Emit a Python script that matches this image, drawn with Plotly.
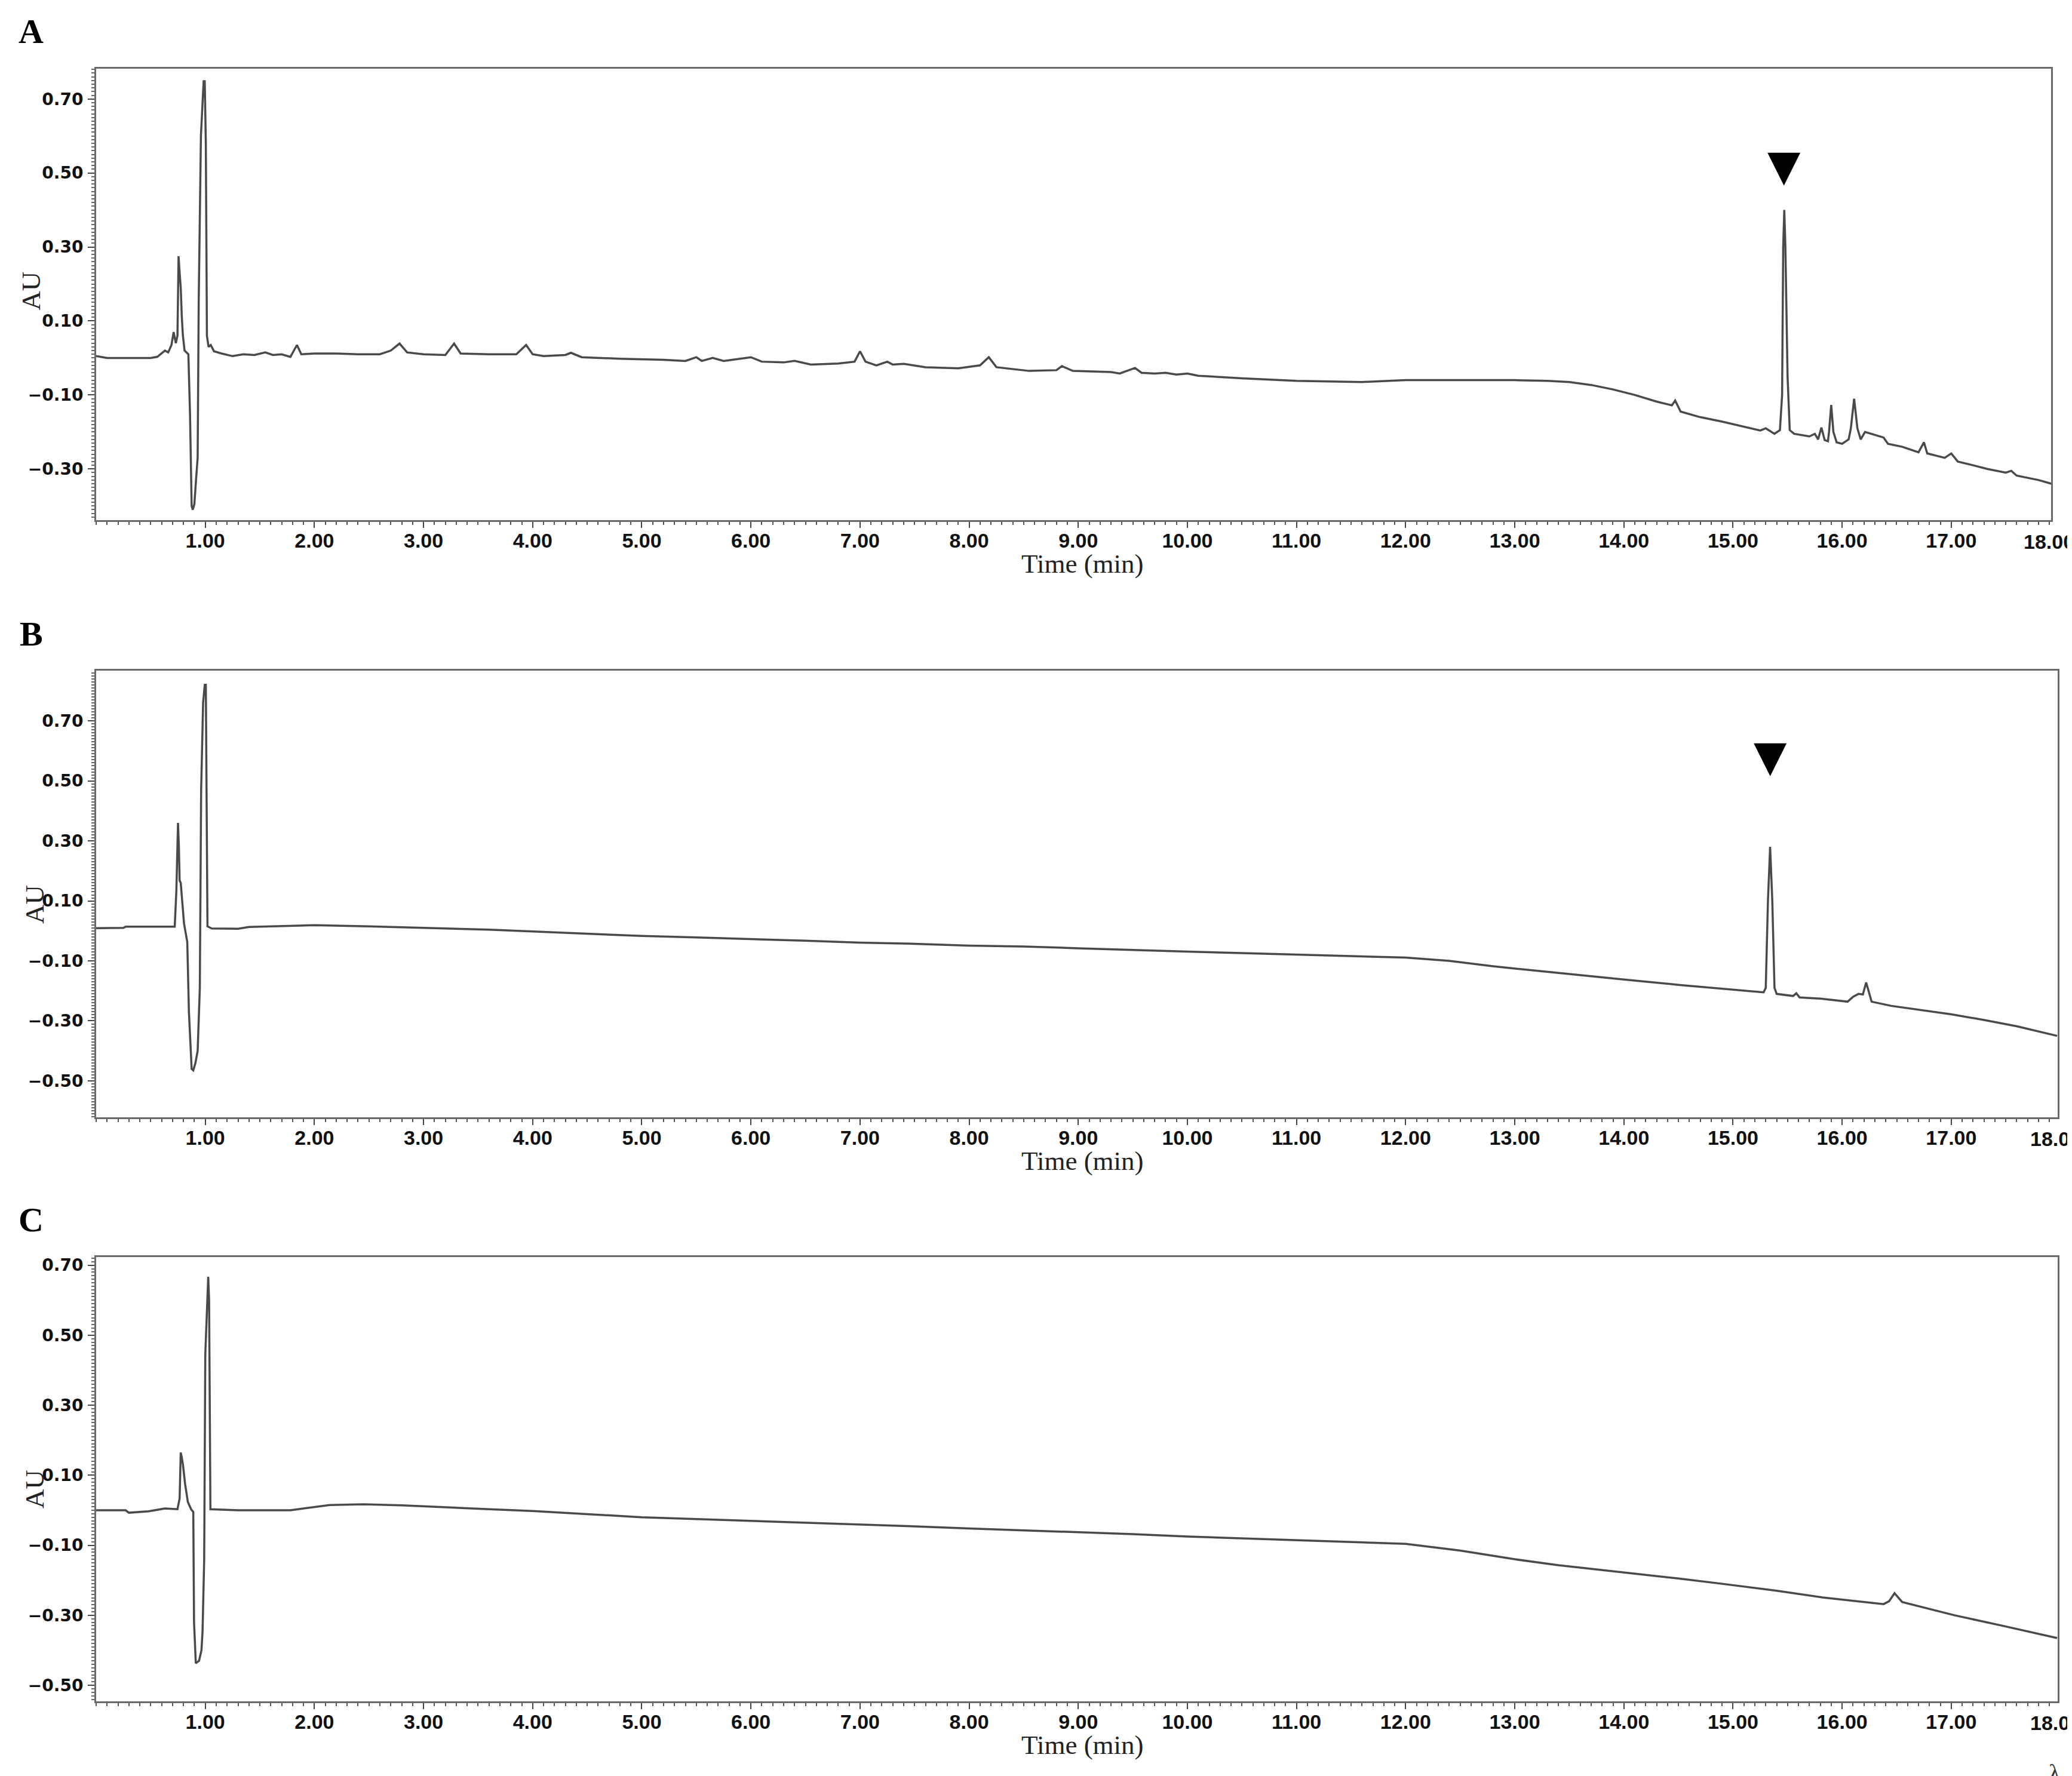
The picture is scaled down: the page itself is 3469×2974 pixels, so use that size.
import plotly.graph_objects as go

W, H = 3469, 2974

# ---------------- data ----------------
time_a = [0.00, 0.10, 0.30, 0.50, 0.56, 0.60, 0.63, 0.66, 0.69, 0.71, 0.73, 0.745, 0.755, 0.765,
          0.775, 0.785, 0.795, 0.81, 0.845, 0.86, 0.875, 0.885, 0.90, 0.915, 0.93, 0.94, 0.96,
          0.975, 0.985, 0.995, 1.005, 1.015, 1.03, 1.05, 1.08, 1.15, 1.25, 1.35, 1.45, 1.55,
          1.62, 1.70, 1.78, 1.84, 1.88, 2.00, 2.20, 2.40, 2.60, 2.70, 2.78, 2.85, 3.00, 3.20,
          3.28, 3.34, 3.60, 3.85, 3.94, 4.00, 4.10, 4.30, 4.35, 4.45, 4.80, 5.20, 5.40, 5.50,
          5.55, 5.65, 5.75, 5.90, 6.00, 6.10, 6.30, 6.40, 6.55, 6.80, 6.95, 7.00, 7.05, 7.15,
          7.25, 7.30, 7.40, 7.60, 7.90, 8.10, 8.18, 8.25, 8.40, 8.55, 8.80, 8.85, 8.95, 9.30,
          9.38, 9.45, 9.52, 9.58, 9.70, 9.80, 9.90, 10.0, 10.1, 10.5, 11.0, 11.6, 12.0, 12.5,
          13.0, 13.3, 13.5, 13.7, 13.9, 14.1, 14.3, 14.44, 14.47, 14.52, 14.7, 14.9, 15.1,
          15.25, 15.30, 15.38, 15.43, 15.45, 15.46, 15.47, 15.48, 15.50, 15.52, 15.56, 15.70,
          15.75, 15.78, 15.81, 15.84, 15.87, 15.88, 15.90, 15.92, 15.95, 16.00, 16.06, 16.08,
          16.11, 16.14, 16.17, 16.21, 16.30, 16.38, 16.42, 16.55, 16.70, 16.75, 16.78, 16.94,
          17.00, 17.06, 17.20, 17.33, 17.50, 17.55, 17.60, 17.80, 17.92]
au_a = [0.005, 0.000, 0.000, 0.000, 0.003, 0.012, 0.020, 0.015, 0.035, 0.070, 0.040, 0.060, 0.275,
        0.230, 0.190, 0.110, 0.060, 0.020, 0.010, -0.150, -0.400, -0.410, -0.395, -0.330, -0.270,
        0.160, 0.600, 0.690, 0.748, 0.748, 0.580, 0.060, 0.030, 0.035, 0.018, 0.012, 0.005, 0.010,
        0.008, 0.015, 0.008, 0.010, 0.003, 0.035, 0.010, 0.012, 0.012, 0.010, 0.010, 0.020, 0.039,
        0.015, 0.010, 0.008, 0.039, 0.012, 0.010, 0.010, 0.035, 0.010, 0.005, 0.008, 0.014, 0.002,
        -0.002, -0.005, -0.008, 0.002, -0.008, 0.000, -0.008, -0.002, 0.002, -0.010, -0.012,
        -0.008, -0.018, -0.015, -0.010, 0.018, -0.010, -0.020, -0.010, -0.018, -0.016, -0.025,
        -0.028, -0.020, 0.002, -0.025, -0.030, -0.035, -0.033, -0.022, -0.035, -0.038, -0.042,
        -0.035, -0.027, -0.040, -0.042, -0.040, -0.045, -0.042, -0.048, -0.055, -0.062, -0.065,
        -0.060, -0.060, -0.060, -0.062, -0.065, -0.073, -0.085, -0.100, -0.118, -0.128, -0.115,
        -0.145, -0.160, -0.172, -0.186, -0.196, -0.190, -0.205, -0.195, -0.100, 0.300, 0.400,
        0.300, -0.050, -0.195, -0.205, -0.212, -0.205, -0.220, -0.188, -0.222, -0.225, -0.200,
        -0.127, -0.200, -0.228, -0.232, -0.220, -0.190, -0.110, -0.190, -0.220, -0.200, -0.208,
        -0.215, -0.232, -0.240, -0.255, -0.228, -0.258, -0.270, -0.258, -0.280, -0.290, -0.300,
        -0.310, -0.305, -0.318, -0.330, -0.340]

time_b = [0.00, 0.25, 0.27, 0.72, 0.735, 0.75, 0.758, 0.765, 0.775, 0.79, 0.805, 0.835, 0.85,
          0.875, 0.89, 0.91, 0.93, 0.95, 0.962, 0.98, 0.995, 1.005, 1.012, 1.02, 1.06, 1.30, 1.40,
          2.00, 2.50, 3.00, 3.60, 4.00, 4.50, 5.00, 5.50, 6.00, 6.50, 7.00, 7.50, 8.00, 8.50,
          9.00, 9.50, 10.0, 10.5, 11.0, 11.5, 12.0, 12.4, 12.8, 13.2, 13.6, 14.0, 14.5, 15.0,
          15.28, 15.30, 15.32, 15.34, 15.36, 15.38, 15.40, 15.55, 15.58, 15.61, 15.80, 16.05,
          16.10, 16.15, 16.19, 16.22, 16.24, 16.27, 16.45, 16.70, 17.00, 17.30, 17.60, 17.97]
au_b = [0.009, 0.010, 0.014, 0.014, 0.134, 0.360, 0.280, 0.168, 0.160, 0.090, 0.025, -0.037,
        -0.270, -0.460, -0.465, -0.440, -0.400, -0.190, 0.470, 0.760, 0.820, 0.820, 0.305, 0.015,
        0.008, 0.007, 0.013, 0.019, 0.015, 0.010, 0.004, -0.002, -0.010, -0.017, -0.022, -0.027,
        -0.033, -0.039, -0.043, -0.049, -0.052, -0.058, -0.064, -0.069, -0.074, -0.079, -0.085,
        -0.089, -0.100, -0.118, -0.133, -0.148, -0.162, -0.180, -0.196, -0.205, -0.190, 0.100,
        0.280, 0.100, -0.190, -0.210, -0.217, -0.208, -0.222, -0.226, -0.236, -0.220, -0.210,
        -0.212, -0.172, -0.200, -0.236, -0.250, -0.262, -0.278, -0.297, -0.318, -0.350]

time_c = [0.00, 0.27, 0.30, 0.48, 0.63, 0.745, 0.765, 0.775, 0.785, 0.795, 0.815, 0.84, 0.87,
          0.89, 0.897, 0.913, 0.943, 0.965, 0.975, 0.99, 1.00, 1.017, 1.027, 1.035, 1.040, 1.047,
          1.30, 1.78, 2.14, 2.45, 2.80, 3.20, 3.60, 4.00, 4.50, 5.00, 5.50, 6.00, 6.50, 7.00,
          7.50, 8.00, 8.50, 9.00, 9.50, 10.0, 10.5, 11.0, 11.5, 12.0, 12.5, 13.0, 13.4, 14.0,
          14.5, 14.9, 15.4, 15.82, 16.2, 16.38, 16.43, 16.48, 16.55, 16.8, 17.03, 17.5, 17.97]
au_c = [0.000, 0.000, -0.007, -0.003, 0.005, 0.003, 0.034, 0.165, 0.150, 0.131, 0.075, 0.024,
        0.003, -0.005, -0.320, -0.437, -0.430, -0.400, -0.345, -0.140, 0.445, 0.597, 0.667,
        0.600, 0.270, 0.003, 0.000, 0.000, 0.015, 0.017, 0.014, 0.008, 0.003, -0.002, -0.011,
        -0.020, -0.025, -0.030, -0.036, -0.041, -0.046, -0.052, -0.057, -0.063, -0.068, -0.075,
        -0.080, -0.086, -0.091, -0.096, -0.115, -0.140, -0.157, -0.177, -0.195, -0.210, -0.230,
        -0.249, -0.262, -0.268, -0.260, -0.237, -0.262, -0.282, -0.300, -0.332, -0.365]

# peak markers (time, AU centre of the triangle)
marker_time_a, marker_au_a = 15.47, 0.520
marker_time_b, marker_au_b = 15.34, 0.583

panel_letters = ["A", "B", "C"]
x_title = "Time (min)"
y_title = "AU"
x_tickvals = list(range(1, 18))
x_ticktext = ["%.2f" % v for v in x_tickvals]
last_tick_text = "18.00"   # drawn at the right end of each time axis, cut by the page edge

# ---------------- layout geometry (pixels) ----------------
panels = [
    # (times, values, left, right, top, bottom, xmax, yrange, ytick0)
    (time_a, au_a, 153, 3426, 105, 862, 17.915, [-0.439, 0.782], 0.1),
    (time_b, au_b, 153, 3437, 1114, 1862, 17.975, [-0.621, 0.867], 0.1),
    (time_c, au_c, 153, 3437, 2096, 2841, 17.975, [-0.546, 0.724], 0.1),
]

fig = go.Figure()
LINE = "#4a4a4a"
FRAME = "#6a6a6a"
XFONT = dict(family="Liberation Sans, Arial, sans-serif", size=34, color="#111", weight="bold")

for i, (tx, ty, l, r, t, b, xmax, yr, y0) in enumerate(panels):
    n = "" if i == 0 else str(i + 1)
    fig.add_trace(go.Scatter(x=tx, y=ty, mode="lines",
                             line=dict(color=LINE, width=3.5),
                             xaxis="x" + n, yaxis="y" + n, showlegend=False,
                             hoverinfo="skip"))
    xa = dict(domain=[l / W, r / W], range=[0, xmax], anchor="y" + n,
              showline=True, linecolor=FRAME, linewidth=3, mirror=True,
              showgrid=False, zeroline=False,
              ticks="outside", ticklen=10, tickwidth=2, tickcolor="#444",
              tickmode="array", tickvals=x_tickvals, ticktext=x_ticktext,
              tickfont=XFONT, ticklabelstandoff=-8,
              minor=dict(dtick=0.1, tick0=0, ticks="outside", ticklen=5, tickwidth=2,
                         tickcolor="#555", showgrid=False))
    ya = dict(domain=[1 - b / H, 1 - t / H], range=yr, anchor="x" + n,
              showline=True, linecolor=FRAME, linewidth=3, mirror=True,
              showgrid=False, zeroline=False,
              ticks="outside", ticklen=11, tickwidth=2, tickcolor="#444",
              tick0=y0, dtick=0.2, tickformat=".2f",
              tickfont=dict(family="DejaVu Sans, Verdana, sans-serif", size=28,
                            color="#111", weight="bold"),
              ticklabelstandoff=2,
              minor=dict(dtick=0.01, tick0=0, ticks="outside", ticklen=5, tickwidth=1.5,
                         tickcolor="#666", showgrid=False))
    fig.update_layout(**{"xaxis" + n: xa, "yaxis" + n: ya})

    # last tick label at the right end of the axis, cut by the page edge
    fig.add_annotation(x=(r - 4) / W, y=1 - (b + 36) / H,
                       xref="paper", yref="paper", text=last_tick_text, showarrow=False,
                       font=XFONT, xanchor="center", yanchor="middle")

    # panel letter
    fig.add_annotation(x=44 / W, y=1 - (t - 62) / H, xref="paper", yref="paper",
                       text="<b>%s</b>" % panel_letters[i], showarrow=False,
                       font=dict(family="Liberation Serif, Times New Roman, serif", size=58,
                                 color="#000"), xanchor="center", yanchor="middle")
    # x axis title
    fig.add_annotation(x=1805 / W, y=1 - (b + 73) / H, xref="paper", yref="paper",
                       text=x_title, showarrow=False,
                       font=dict(family="Liberation Serif, Times New Roman, serif", size=45,
                                 color="#222"), xanchor="center", yanchor="middle")

# y axis titles
for (xc, yc) in [(44, 478), (50, 1506), (50, 2486)]:
    fig.add_annotation(x=xc / W, y=1 - yc / H, xref="paper", yref="paper",
                       text=y_title, showarrow=False, textangle=-90,
                       font=dict(family="Liberation Serif, Times New Roman, serif", size=45,
                                 color="#222"), xanchor="center", yanchor="middle")

# peak markers
for (mt, ma, ax) in [(marker_time_a, marker_au_a, ("x", "y")),
                     (marker_time_b, marker_au_b, ("x2", "y2"))]:
    fig.add_annotation(x=mt, y=ma, xref=ax[0], yref=ax[1], text="\u25BC",
                       showarrow=False,
                       font=dict(family="DejaVu Sans, sans-serif", size=72, color="#000"),
                       xanchor="center", yanchor="middle")

# stray glyph at bottom right
fig.add_annotation(x=3432 / W, y=1 - 2960 / H, xref="paper", yref="paper", text="\u03bb",
                   showarrow=False, font=dict(family="Liberation Serif, serif", size=40,
                                              color="#333"),
                   xanchor="center", yanchor="middle")

fig.update_layout(width=W, height=H, autosize=False,
                  margin=dict(l=0, r=0, t=0, b=0, pad=0),
                  paper_bgcolor="white", plot_bgcolor="white", showlegend=False)

fig.write_html("out.html")
